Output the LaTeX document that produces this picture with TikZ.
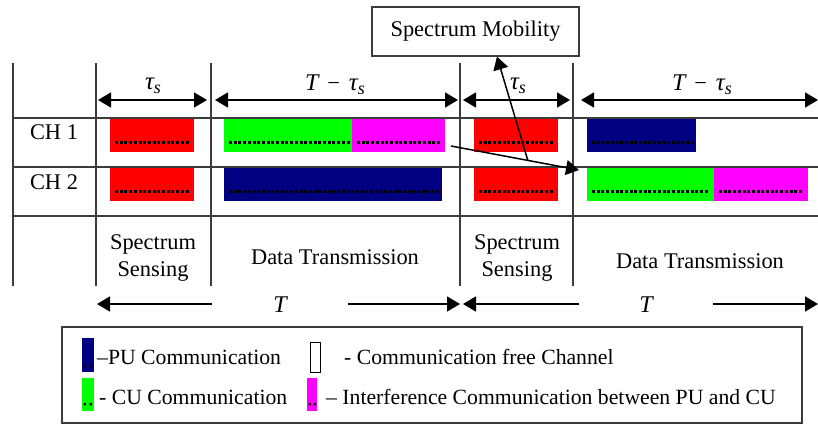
\documentclass[tikz,border=0pt]{standalone}
\usepackage{fontspec}
\setmainfont{Liberation Serif}
\usetikzlibrary{arrows.meta}
\definecolor{sensred}{RGB}{255,0,0}
\definecolor{punavy}{RGB}{0,0,128}
\definecolor{cugreen}{RGB}{0,255,0}
\definecolor{intmag}{RGB}{255,0,255}
\definecolor{gridgray}{RGB}{60,60,60}
\newcommand{\tauS}{{\fontsize{25}{25}\selectfont\itshape τ}\raisebox{-0.4ex}{\fontsize{18}{18}\selectfont\itshape s}}
\newcommand{\Tmt}{{\fontsize{24}{24}\selectfont\itshape T}\hspace{0.4em}−\hspace{0.4em}\tauS}
\tikzset{
  gridline/.style={draw=gridgray, line width=1.2pt},
  dimarrow/.style={draw=black, line width=1.5pt,
    {Triangle[length=13pt,width=15pt]}-{Triangle[length=13pt,width=15pt]}},
  onearrow/.style={draw=black, line width=1.5pt, -{Triangle[length=13pt,width=15pt]}},
  lbl/.style={inner sep=0pt, align=center},
  legtext/.style={inner sep=0pt, anchor=west, font=\fontsize{21.7}{26}\selectfont},
}
% a coloured slot with its row of square dots
\newcommand{\slot}[5]{% x1,x2,y1,y2,colour
  \fill[#5] (#1,#3) rectangle (#2,#4);
  \pgfmathtruncatemacro{\ndots}{(#2-#1-10)/4.7}
  \foreach \k in {0,...,\ndots}
    \fill[black] ({#1+5+\k*4.7},{#4-11}) rectangle ++(3,3);
}
\begin{document}
\begin{tikzpicture}[x=1pt,y=-1pt,font=\fontsize{22.4}{27}\selectfont]
\useasboundingbox (0,0) rectangle (818,425);

% time grid
\foreach \gx in {13,96,211,460,573}
  \draw[gridline] (\gx,63) -- (\gx,286);
\foreach \gy in {118,167,216}
  \draw[gridline] (13,\gy) -- (818,\gy);

% channel 1
\slot{110}{194}{119}{152}{sensred}
\slot{224}{352}{119}{152}{cugreen}
\slot{352}{445}{119}{152}{intmag}
\slot{474}{558}{119}{152}{sensred}
\slot{587}{696}{119}{152}{punavy}
% channel 2
\slot{110}{194}{168}{201}{sensred}
\slot{224}{442}{168}{201}{punavy}
\slot{474}{558}{168}{201}{sensred}
\slot{587}{714}{168}{201}{cugreen}
\slot{714}{808}{168}{201}{intmag}

% row labels
\node[lbl] (ch1) at (54,132) {CH 1};
\node[lbl] (ch2) at (54,182) {CH 2};

% phase durations
\coordinate (d1a) at (98,100);  \coordinate (d1b) at (207,100);
\coordinate (d2a) at (215,100); \coordinate (d2b) at (458,100);
\coordinate (d3a) at (463,100); \coordinate (d3b) at (570,100);
\coordinate (d4a) at (581,100); \coordinate (d4b) at (818,100);
\draw[dimarrow] (d1a) -- (d1b);
\draw[dimarrow] (d2a) -- (d2b);
\draw[dimarrow] (d3a) -- (d3b);
\draw[dimarrow] (d4a) -- (d4b);
\node[lbl] (tau1) at (153,86) {\tauS};
\node[lbl] (tmt1) at (335,85) {\Tmt};
\node[lbl] (tau2) at (518,86) {\tauS};
\node[lbl] (tmt2) at (702,85) {\Tmt};

% phase names
\node[lbl] (ss1) at (153,258) {Spectrum\\Sensing};
\node[lbl] (dt1) at (335,257) {Data Transmission};
\node[lbl] (ss2) at (517,258) {Spectrum\\Sensing};
\node[lbl] (dt2) at (700,261) {Data Transmission};

% frame lengths
\node[lbl, minimum width=135pt] (frame1) at (280,305) {\fontsize{24}{24}\selectfont\itshape T};
\node[lbl, minimum width=133pt] (frame2) at (646,305) {\fontsize{24}{24}\selectfont\itshape T};
\coordinate (f1a) at (97,304);  \coordinate (f1b) at (460,304);
\coordinate (f2a) at (463,304); \coordinate (f2b) at (818,304);
\draw[onearrow] (frame1.west |- f1a) -- (f1a);
\draw[onearrow] (frame1.east |- f1a) -- (f1b);
\draw[onearrow] (frame2.west |- f2a) -- (f2a);
\draw[onearrow] (frame2.east |- f2a) -- (f2b);

% spectrum mobility
\node[draw=gridgray, line width=1.2pt, fill=white, minimum width=207pt, minimum height=49pt, inner sep=0pt] (mob) at (475.5,31.5) {Spectrum Mobility};
\coordinate (hopA) at (451,146);
\coordinate (hopB) at (579,170);
\draw[onearrow] (hopA) -- (hopB) coordinate[pos=0.6] (hopJ);
\draw[onearrow] (hopJ) -- ([xshift=21.5pt]mob.south);

% legend
\node[draw=gridgray, line width=1.2pt, minimum width=740pt, minimum height=96pt, inner sep=0pt] (legend) at (432,375) {};
\fill[punavy] (82,338) rectangle (94,372);
\fill[black] (83.5,365) rectangle ++(2.4,2.4) (89.5,365) rectangle ++(2.4,2.4);
\node[legtext] (lgpu) at (97,357) {–PU Communication};
\draw[black, line width=1pt] (310,342) rectangle (320,372);
\node[legtext] (lgfree) at (344,357) {- Communication free Channel};
\fill[cugreen] (82,378) rectangle (94,411);
\fill[black] (83.5,403) rectangle ++(2.4,2.4) (89.5,403) rectangle ++(2.4,2.4);
\node[legtext] (lgcu) at (99,397) {- CU Communication};
\fill[intmag] (307,378) rectangle (317,411);
\fill[black] (308.5,403) rectangle ++(2.4,2.4) (313.5,403) rectangle ++(2.4,2.4);
\node[legtext] (lgint) at (326,397) {– Interference Communication between PU and CU};
\end{tikzpicture}
\end{document}
